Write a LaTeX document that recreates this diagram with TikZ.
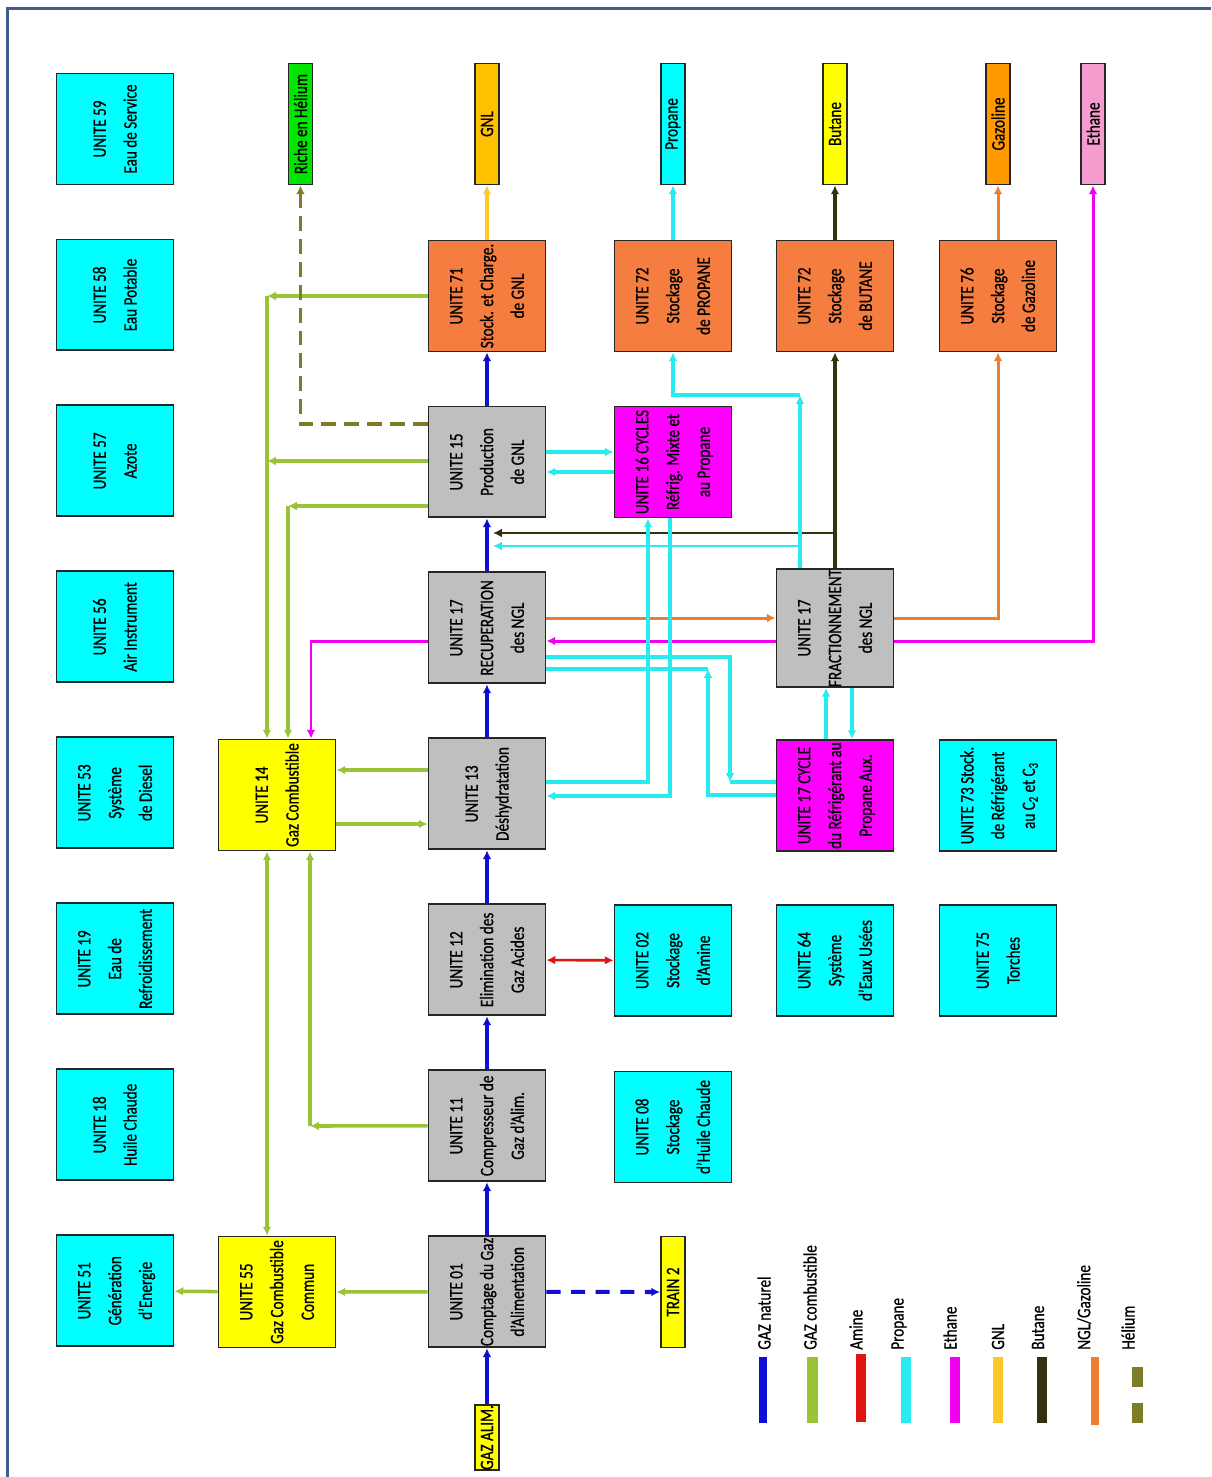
\documentclass[tikz,border=0pt]{standalone}
\usepackage{fontspec}
\setmainfont{Carlito}[FakeStretch=0.8,FakeBold=0.7]
\usetikzlibrary{arrows.meta,positioning}

\definecolor{unitcyan}{RGB}{0,255,255}
\definecolor{unitgrey}{RGB}{191,191,191}
\definecolor{unitorange}{RGB}{245,125,64}
\definecolor{unitmagenta}{RGB}{255,0,255}
\definecolor{unityellow}{RGB}{255,255,0}
\definecolor{gnlbox}{RGB}{255,192,0}
\definecolor{gazobox}{RGB}{255,153,0}
\definecolor{ethbox}{RGB}{245,155,205}
\definecolor{hebox}{RGB}{0,230,0}
\definecolor{framecol}{RGB}{65,95,140}
\definecolor{natgascol}{RGB}{15,15,215}
\definecolor{fuelcol}{RGB}{155,195,55}
\definecolor{aminecol}{RGB}{225,20,20}
\definecolor{propcol}{RGB}{40,235,240}
\definecolor{ethcol}{RGB}{240,0,240}
\definecolor{gnlcol}{RGB}{255,200,40}
\definecolor{butcol}{RGB}{50,50,15}
\definecolor{nglcol}{RGB}{237,125,49}
\definecolor{hecol}{RGB}{125,125,40}

\newcommand{\vtext}[1]{\rotatebox{90}{\begin{tabular}{@{}c@{}}#1\end{tabular}}}

\begin{document}
\begin{tikzpicture}[x=0.02cm,y=-0.02cm,>={Latex[length=5pt,width=5pt]},node distance=3.32cm,
  every node/.style={font=\fontsize{10.8}{17.5}\selectfont},
  unitbox/.style={draw=black!85,line width=1.1pt,minimum width=2.34cm,minimum height=2.22cm,inner sep=0pt},
  util/.style={unitbox,fill=unitcyan},
  proc/.style={unitbox,fill=unitgrey},
  store/.style={unitbox,fill=unitorange},
  refrig/.style={unitbox,fill=unitmagenta},
  fuelbox/.style={unitbox,fill=unityellow},
  prod/.style={draw=black!85,line width=1.1pt,minimum width=0.48cm,minimum height=2.42cm,inner sep=0pt},
  natgas/.style={draw=natgascol,line width=2.3pt},
  fuel/.style={draw=fuelcol,line width=2pt},
  amine/.style={draw=aminecol,line width=1.5pt},
  prop/.style={draw=propcol,line width=2pt},
  eth/.style={draw=ethcol,line width=1.7pt},
  gnlline/.style={draw=gnlcol,line width=1.8pt},
  but/.style={draw=butcol,line width=2.2pt},
  ngl/.style={draw=nglcol,line width=1.7pt},
  helium/.style={draw=hecol,line width=2pt,dash pattern=on 8.5pt off 4.5pt}]
\useasboundingbox (0,0) rectangle (1211,1477);
\draw[framecol,line width=2pt] (7.7,1477) -- (7.7,8.7) -- (1211,8.7);

% utilities
\node[util] (U59) at (115,129) {\vtext{UNITE 59\\Eau de Service}};
\node[util] (U58) [below of = U59] {\vtext{UNITE 58\\Eau Potable}};
\node[util] (U57) [below of = U58] {\vtext{UNITE 57\\Azote}};
\node[util] (U56) [below of = U57] {\vtext{UNITE 56\\Air Instrument}};
\node[util] (U53) [below of = U56] {\vtext{UNITE 53\\Système\\de Diesel}};
\node[util] (U19) [below of = U53] {\vtext{UNITE 19\\Eau de\\Refroidissement}};
\node[util] (U18) [below of = U19] {\vtext{UNITE 18\\Huile Chaude}};
\node[util] (U51) [below of = U18] {\vtext{UNITE 51\\Génération\\d’Energie}};

% main train
\node[store] (U71) at (487,296) {\vtext{UNITE 71\\Stock. et Charge.\\de GNL}};
\node[proc] (U15) [below of = U71] {\vtext{UNITE 15\\Production\\de GNL}};
\node[proc] (U17R) [below of = U15] {\vtext{UNITE 17\\RECUPERATION\\des NGL}};
\node[proc] (U13) [below of = U17R] {\vtext{UNITE 13\\Déshydratation}};
\node[proc] (U12) [below of = U13] {\vtext{UNITE 12\\Elimination des\\Gaz Acides}};
\node[proc] (U11) [below of = U12] {\vtext{UNITE 11\\Compresseur de\\Gaz d’Alim.}};
\node[proc] (U01) [below of = U11] {\vtext{UNITE 01\\Comptage du Gaz\\d’Alimentation}};

\node[fuelbox] (U14) at (277,795) {\vtext{UNITE 14\\Gaz Combustible}};
\node[fuelbox] (U55) at (277,1292) {\vtext{UNITE 55\\Gaz Combustible\\Commun}};

\node[store] (U72P) at (673,296) {\vtext{UNITE 72\\Stockage\\de PROPANE}};
\node[refrig] (U16) at (673,462) {\vtext{UNITE 16 CYCLES\\Réfrig. Mixte et\\au Propane}};
\node[util] (U02) at (673,960.5) {\vtext{UNITE 02\\Stockage\\d’Amine}};
\node[util] (U08) at (673,1127) {\vtext{UNITE 08\\Stockage\\d’Huile Chaude}};

\node[store] (U72B) at (835,296) {\vtext{UNITE 72\\Stockage\\de BUTANE}};
\node[proc] (U17F) at (835,628) {\vtext{UNITE 17\\FRACTIONNEMENT\\des NGL}};
\node[refrig] (U17C) at (835,795.5) {\vtext{UNITE 17 CYCLE\\du Réfrigérant au\\Propane Aux.}};
\node[util] (U64) at (835,960.5) {\vtext{UNITE 64\\Système\\d’Eaux Usées}};

\node[store] (U76) at (998,296) {\vtext{UNITE 76\\Stockage\\de Gazoline}};
\node[util] (U73) at (998,795.5) {\vtext{UNITE 73 Stock.\\de Réfrigérant\\au C\textsubscript{2} et C\textsubscript{3}}};
\node[util] (U75) at (998,960.5) {\vtext{UNITE 75\\Torches}};

% products
\node[prod,fill=hebox] (he) at (300.5,124) {\rotatebox{90}{Riche en Hélium}};
\node[prod,fill=gnlbox] (gnl) at (487,124) {\rotatebox{90}{GNL}};
\node[prod,fill=unitcyan] (propane) at (673,124) {\rotatebox{90}{Propane}};
\node[prod,fill=unityellow] (butane) at (835,124) {\rotatebox{90}{Butane}};
\node[prod,fill=gazobox] (gazoline) at (998,124) {\rotatebox{90}{Gazoline}};
\node[prod,fill=ethbox] (ethane) at (1093,124) {\rotatebox{90}{Ethane}};
\node[prod,fill=unityellow,minimum height=2.22cm] (train) at (673,1292) {\rotatebox{90}{TRAIN 2}};
\node[prod,fill=unityellow,minimum height=1.3cm] (alim) at (487,1437.5) {\rotatebox{90}{GAZ ALIM.}};

% corners
\coordinate (c71) at (267,296);
\coordinate (c15a) at (267,461);
\coordinate (c15b) at (288,506);
\coordinate (c11) at (310,1126);
\coordinate (cHe) at (300.5,424);
\coordinate (cEth) at (1093,641);
\coordinate (cEthR) at (311,641);
\coordinate (cNgl) at (998,618);
\coordinate (cPr1) at (800,395);
\coordinate (cPr2) at (673,395);
\coordinate (jPr) at (800,546);
\coordinate (jBu) at (835,533);
\coordinate (c13a) at (648,782);
\coordinate (c13b) at (670,796);
\coordinate (cR1a) at (730,657);
\coordinate (cR1b) at (730,782);
\coordinate (cR2a) at (708,669);
\coordinate (cR2b) at (708,795);

% natural gas
\path[natgas,->]
    (alim) edge (U01)
    (U01) edge (U11)
    (U11) edge (U12)
    (U12) edge (U13)
    (U13) edge (U17R)
    (U17R) edge (U15)
    (U15) edge (U71)
    ;
\draw[natgas,->,dash pattern=on 8pt off 6pt] (U01) -- (train);

% fuel gas
\draw[fuel,->] (U01) -- (U55);
\draw[fuel,->] (U55) -- (U51);
\draw[fuel,<->] (U14.south -| c71) -- (U55.north -| c71);
\draw[fuel,->] (U11) -- (c11);
\draw[fuel,->] (c11) -- (U14.south -| c11);
\draw[fuel,->] (U71) -- (c71);
\draw[fuel,->] (c71) -- (U14.north -| c71);
\draw[fuel,->] (U15.west |- c15a) -- (c15a);
\draw[fuel,->] (U15.west |- c15b) -- (c15b);
\draw[fuel,->] (c15b) -- (U14.north -| c15b);
\draw[fuel,->] (U13.west |- 0,770) -- (U14.east |- 0,770);
\draw[fuel,->] (U14.east |- 0,824) -- (U13.west |- 0,824);

% amine
\draw[amine,<->] (U12) -- (U02);

% helium
\draw[helium,->] (U15.west |- cHe) -- (cHe) -- (he);

% GNL
\draw[gnlline,->] (U71) -- (gnl);

% ethane
\draw[eth,->] (U17F.east |- cEth) -- (cEth) -- (ethane);
\draw[eth,->] (U17F.west |- cEth) -- (U17R.east |- cEth);
\draw[eth,->] (U17R.west |- cEthR) -- (cEthR) -- (U14.north -| cEthR);

% NGL / gazoline
\draw[ngl,->] (U17R.east |- cNgl) -- (U17F.west |- cNgl);
\draw[ngl,->] (U17F.east |- cNgl) -- (cNgl) -- (U76);
\draw[ngl,->] (U76) -- (gazoline);

% butane
\draw[but,->] (U17F.north -| jBu) -- (U72B.south -| jBu);
\draw[but,->,line width=1.2pt] (jBu) -- (493,533);
\draw[but,->] (U72B) -- (butane);

% propane
\draw[prop,->] (U17F.north -| cPr1) -- (cPr1);
\draw[prop,->] (cPr1) -- (cPr2) -- (U72P.south -| cPr2);
\draw[prop,->] (U72P) -- (propane);
\draw[prop,->,line width=1.2pt] (jPr) -- (493,546);
\draw[prop,->] (U15.east |- 0,452) -- (U16.west |- 0,452);
\draw[prop,->] (U16.west |- 0,472) -- (U15.east |- 0,472);
\draw[prop,->] (U13.east |- c13a) -- (c13a) -- (U16.south -| c13a);
\draw[prop,->] (U16.south -| c13b) -- (c13b) -- (U13.east |- c13b);
\draw[prop,->] (U17R.east |- cR1a) -- (cR1a) -- (cR1b);
\draw[prop] (cR1b) -- (U17C.west |- cR1b);
\draw[prop,->] (U17C.west |- cR2b) -- (cR2b) -- (cR2a);
\draw[prop] (cR2a) -- (U17R.east |- cR2a);
\draw[prop,->] (U17C.north -| 826,0) -- (U17F.south -| 826,0);
\draw[prop,->] (U17F.south -| 852,0) -- (U17C.north -| 852,0);

% legend
\draw[natgascol,line width=0.17cm] (763,1357) -- (763,1423);
\node[anchor=south,inner sep=0pt] (lgas) at (764,1350) {\rotatebox{90}{GAZ naturel}};
\draw[fuelcol,line width=0.22cm] (812.5,1357) -- (812.5,1423);
\node[anchor=south,inner sep=0pt] (lfuel) at (810,1350) {\rotatebox{90}{GAZ combustible}};
\draw[aminecol,line width=0.2cm] (860.5,1354) -- (860.5,1422);
\node[anchor=south,inner sep=0pt] (lamine) at (856,1350) {\rotatebox{90}{Amine}};
\draw[propcol,line width=0.2cm] (905.5,1357) -- (905.5,1423);
\node[anchor=south,inner sep=0pt] (lprop) at (899,1350) {\rotatebox{90}{Propane}};
\draw[ethcol,line width=0.2cm] (954.5,1357) -- (954.5,1423);
\node[anchor=south,inner sep=0pt] (leth) at (950,1350) {\rotatebox{90}{Ethane}};
\draw[gnlcol,line width=0.2cm] (998,1357) -- (998,1423);
\node[anchor=south,inner sep=0pt] (lgnl) at (998,1350) {\rotatebox{90}{GNL}};
\draw[butcol,line width=0.2cm] (1042,1357) -- (1042,1423);
\node[anchor=south,inner sep=0pt] (lbut) at (1038,1350) {\rotatebox{90}{Butane}};
\draw[nglcol,line width=0.17cm] (1095,1357) -- (1095,1425);
\node[anchor=south,inner sep=0pt] (lngl) at (1084,1350) {\rotatebox{90}{NGL/Gazoline}};
\fill[hecol] (1132,1367) rectangle (1143,1387);
\fill[hecol] (1132,1403) rectangle (1143,1423);
\node[anchor=south,inner sep=0pt] (lhe) at (1128,1350) {\rotatebox{90}{Hélium}};
\end{tikzpicture}
\end{document}
